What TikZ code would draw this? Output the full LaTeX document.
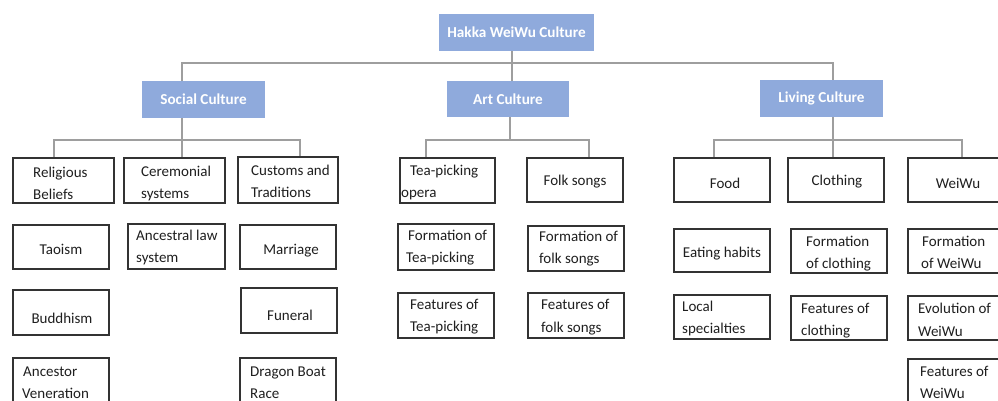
\documentclass[tikz,border=0pt]{standalone}
\usepackage{fontspec}
\setmainfont{Carlito}
\begin{document}
\begin{tikzpicture}[x=1pt,y=-1pt,
  head/.style={fill=blueHead,draw=none,inner sep=0pt,text=white,font=\bfseries\fontsize{15.2}{18}\selectfont},
  leaf/.style={draw=black!80,line width=1.7pt,fill=white,inner sep=0pt},
  txt/.style={inner sep=0pt,anchor=base west,text=black!88,font=\fontsize{15}{18}\selectfont},
  ctxt/.style={inner sep=0pt,anchor=center,text=black!88,font=\fontsize{15}{18}\selectfont},
  conn/.style={draw=black!38,line width=1.8pt}]
\definecolor{blueHead}{HTML}{8FAADC}
\useasboundingbox (0,0) rectangle (998,401);
\clip (0,0) rectangle (998,401);
\fill[white] (0,0) rectangle (998,401);

% header boxes
\node[head,minimum width=155pt,minimum height=37pt] (top) at (516.5,32.5) {Hakka WeiWu Culture};
\node[head,minimum width=123pt,minimum height=37pt] (social) at (203.5,99.5) {Social Culture};
\node[head,minimum width=122pt,minimum height=36pt] (art) at (508,99) {Art Culture};
\node[head,minimum width=123pt,minimum height=37pt] (living) at (821.5,98.5) {Living Culture};

% row 1 boxes
\node[leaf,minimum width=101pt,minimum height=45pt] (rb) at (63.5,180.5) {};
\node[leaf,minimum width=101pt,minimum height=45pt] (cs) at (174.5,180.5) {};
\node[leaf,minimum width=100pt,minimum height=46pt] (ct) at (288,180) {};
\node[leaf,minimum width=95pt,minimum height=45pt] (tp) at (447.5,180.5) {};
\node[leaf,minimum width=96pt,minimum height=44pt] (fs) at (575,180) {};
\node[leaf,minimum width=96pt,minimum height=44pt] (food) at (722,180) {};
\node[leaf,minimum width=96pt,minimum height=44pt] (cloth) at (836,180) {};
\node[leaf,minimum width=96pt,minimum height=44pt] (weiwu) at (956,180) {};

% row 2 boxes
\node[leaf,minimum width=96pt,minimum height=44pt] (tao) at (61,247) {};
\node[leaf,minimum width=97pt,minimum height=45pt] (anc) at (176.5,246.5) {};
\node[leaf,minimum width=96pt,minimum height=44pt] (mar) at (288,247) {};
\node[leaf,minimum width=96pt,minimum height=46pt] (ftp) at (446,247) {};
\node[leaf,minimum width=96pt,minimum height=45pt] (ffs) at (576,248.5) {};
\node[leaf,minimum width=96pt,minimum height=43pt] (eat) at (722,250.5) {};
\node[leaf,minimum width=96pt,minimum height=44pt] (fcl) at (839,251) {};
\node[leaf,minimum width=96pt,minimum height=44pt] (fww) at (956,251) {};

% row 3 boxes
\node[leaf,minimum width=96pt,minimum height=45pt] (bud) at (61,312.5) {};
\node[leaf,minimum width=96pt,minimum height=45pt] (fun) at (289,310.5) {};
\node[leaf,minimum width=96pt,minimum height=45pt] (fetp) at (446,315.5) {};
\node[leaf,minimum width=96pt,minimum height=45pt] (fefs) at (576,315.5) {};
\node[leaf,minimum width=96pt,minimum height=44pt] (loc) at (722,317) {};
\node[leaf,minimum width=96pt,minimum height=44pt] (fecl) at (839,318) {};
\node[leaf,minimum width=96pt,minimum height=44pt] (evo) at (956,318) {};

% row 4 boxes
\node[leaf,minimum width=96pt,minimum height=45pt] (av) at (61,380.5) {};
\node[leaf,minimum width=96pt,minimum height=45pt] (dbr) at (288,380.5) {};
\node[leaf,minimum width=96pt,minimum height=45pt] (few) at (956,381.5) {};

% connectors
\coordinate (xs) at (182,0);
\coordinate (xa) at (512,0);
\coordinate (xl) at (833,0);
\coordinate (ya) at (0,63);
\coordinate (yb) at (0,140);
\draw[conn] (top.south -| xa) -- (art.north -| xa);
\draw[conn] (social.north -| xs) -- (xs |- ya) -- (xl |- ya) -- (living.north -| xl);
% social branch
\draw[conn] (social.south -| xs) -- (cs.north -| xs);
\draw[conn] (rb.north -| 54,0) -- (54,140) -- (300,140) -- (ct.north -| 300,0);
% art branch
\draw[conn] (art.south -| 510,0) -- (510,140);
\draw[conn] (tp.north -| 426,0) -- (426,140) -- (589,140) -- (fs.north -| 589,0);
% living branch
\draw[conn] (living.south -| xl) -- (cloth.north -| xl);
\draw[conn] (food.north -| 714,0) -- (714,140) -- (962,140) -- (weiwu.north -| 962,0);

% row 1 texts
\node[txt] (t1) at (33,177) {Religious};
\node[txt] (t2) at (33,199) {Beliefs};
\node[txt] (t3) at (141,176) {Ceremonial};
\node[txt] (t4) at (141,198) {systems};
\node[txt] (t5) at (251,175) {Customs and};
\node[txt] (t6) at (251,197) {Traditions};
\node[txt] (t7) at (410,175) {Tea-picking};
\node[txt] (t8) at (401,197) {opera};
\node[ctxt] (t9) at (575,182) {Folk songs};
\node[ctxt] (t10) at (725,183) {Food};
\node[ctxt] (t11) at (837,182) {Clothing};
\node[ctxt] (t12) at (958,183) {WeiWu};

% row 2 texts
\node[ctxt] (t13) at (61,249) {Taoism};
\node[txt] (t14) at (136,240) {Ancestral law};
\node[txt] (t15) at (136,262) {system};
\node[ctxt] (t16) at (291,251) {Marriage};
\node[txt] (t17) at (408,240) {Formation of};
\node[txt] (t18) at (406,262) {Tea-picking};
\node[txt] (t19) at (539,241) {Formation of};
\node[txt] (t20) at (539,263) {folk songs};
\node[ctxt] (t21) at (722,254) {Eating habits};
\node[txt] (t22) at (806,246) {Formation};
\node[txt] (t23) at (806,268) {of clothing};
\node[txt] (t24) at (922,246) {Formation};
\node[txt] (t25) at (921,268) {of WeiWu};

% row 3 texts
\node[ctxt] (t26) at (62,318) {Buddhism};
\node[ctxt] (t27) at (290,315) {Funeral};
\node[txt] (t28) at (410,309) {Features of};
\node[txt] (t29) at (410,331) {Tea-picking};
\node[txt] (t30) at (541,309) {Features of};
\node[txt] (t31) at (541,332) {folk songs};
\node[txt] (t32) at (682,311) {Local};
\node[txt] (t33) at (682,333) {specialties};
\node[txt] (t34) at (801,313) {Features of};
\node[txt] (t35) at (801,335) {clothing};
\node[txt] (t36) at (918,313) {Evolution of};
\node[txt] (t37) at (918,336) {WeiWu};

% row 4 texts
\node[txt] (t38) at (23,376) {Ancestor};
\node[txt] (t39) at (22,398) {Veneration};
\node[txt] (t40) at (250,376) {Dragon Boat};
\node[txt] (t41) at (250,398) {Race};
\node[txt] (t42) at (920,376) {Features of};
\node[txt] (t43) at (920,398) {WeiWu};
\end{tikzpicture}
\end{document}
